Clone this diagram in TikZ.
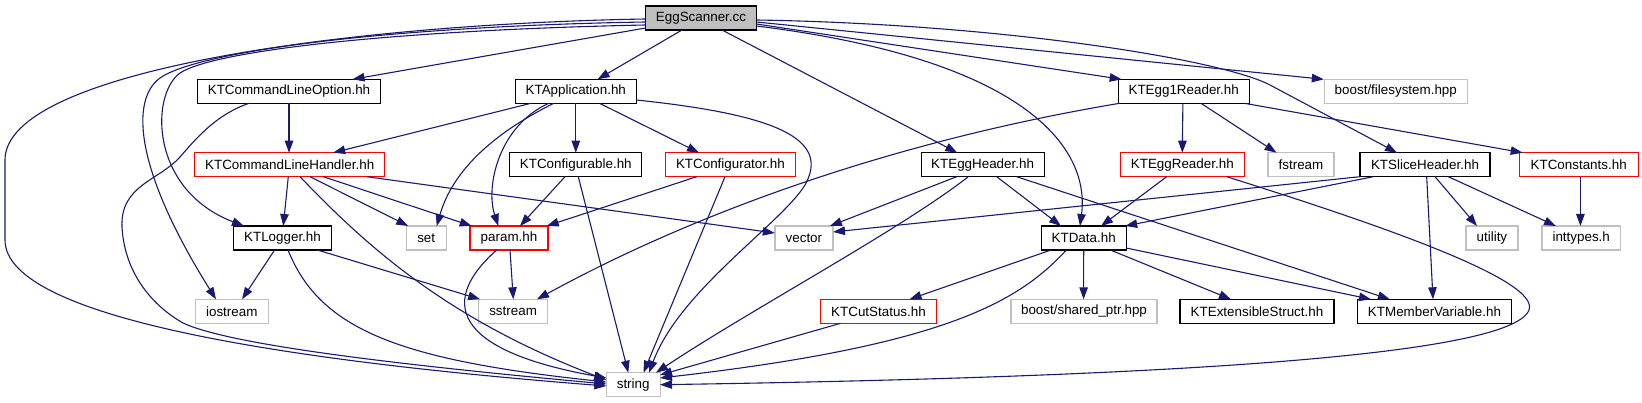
\documentclass[tikz,border=0pt]{standalone}
\usepackage{fontspec}
\setmainfont{Liberation Sans}
\usetikzlibrary{arrows.meta,calc}
\definecolor{mblue}{HTML}{191970}
\definecolor{grey75}{HTML}{BFBFBF}
\definecolor{dred}{HTML}{FF0000}
\begin{document}
\begin{tikzpicture}[x=1pt,y=-1pt,
  box/.style={draw,line width=1.2pt,minimum height=24pt,inner sep=0pt,font=\fontsize{13.4}{15}\selectfont},
  blk/.style={box,draw=black},
  rdb/.style={box,draw=dred},
  gyb/.style={box,draw=grey75},
  dep/.style={draw=mblue,line width=1.1pt,-{Triangle[length=12pt,width=8.5pt]}}]
\useasboundingbox (0,0) rectangle (1642,403);
% row 0
\node[blk,fill=grey75,minimum width=111pt] (es) at (701,18) {EggScanner.cc};
% row 1
\node[blk,minimum width=183pt] (clo) at (289,91.3) {KTCommandLineOption.hh};
\node[blk,minimum width=121pt] (app) at (575.8,91.3) {KTApplication.hh};
\node[blk,minimum width=131pt] (e1r) at (1183.7,91.3) {KTEgg1Reader.hh};
\node[gyb,minimum width=143pt] (bfs) at (1395.8,91.3) {boost/filesystem.hpp};
% row 2
\node[rdb,minimum width=190pt] (clh) at (289.7,164.7) {KTCommandLineHandler.hh};
\node[blk,minimum width=132pt] (cfb) at (575.8,164.7) {KTConfigurable.hh};
\node[rdb,minimum width=130pt] (cfr) at (730.4,164.7) {KTConfigurator.hh};
\node[blk,minimum width=123pt] (ehd) at (982.6,164.7) {KTEggHeader.hh};
\node[rdb,minimum width=124pt] (erd) at (1182.3,164.7) {KTEggReader.hh};
\node[gyb,minimum width=66pt] (fst) at (1301,164.7) {fstream};
\node[blk,minimum width=130pt] (slh) at (1425,164.7) {KTSliceHeader.hh};
\node[rdb,minimum width=119pt] (cst) at (1578.7,164.7) {KTConstants.hh};
% row 3
\node[blk,minimum width=98pt] (log) at (282.5,238) {KTLogger.hh};
\node[gyb,minimum width=40pt] (set) at (426.2,238) {set};
\node[rdb,minimum width=78pt] (prm) at (509,238) {param.hh};
\node[gyb,minimum width=58pt] (vec) at (803.9,238) {vector};
\node[blk,minimum width=85pt] (dat) at (1083.7,238) {KTData.hh};
\node[gyb,minimum width=52pt] (utl) at (1491.9,238) {utility};
\node[gyb,minimum width=78.5pt] (itt) at (1581.2,238) {inttypes.h};
% row 4
\node[gyb,minimum width=73pt] (ios) at (231.8,311.3) {iostream};
\node[gyb,minimum width=69.5pt] (sst) at (513.1,311.3) {sstream};
\node[rdb,minimum width=116pt] (cut) at (878.5,311.3) {KTCutStatus.hh};
\node[gyb,minimum width=146pt] (bsp) at (1084,311.3) {boost/shared\_ptr.hpp};
\node[blk,minimum width=154pt] (ext) at (1257,311.3) {KTExtensibleStruct.hh};
\node[blk,minimum width=154pt] (mem) at (1434.5,311.3) {KTMemberVariable.hh};
% row 5
\node[gyb,minimum width=54pt] (str) at (633.2,384.7) {string};

% EggScanner.cc
\draw[dep] ($(es)+(-55.5,1)$) .. controls (350,24) and (5,70) .. (5,160) -- (5,240) .. controls (5,320) and (300,362) .. ($(str)+(-26.8,1.3)$);
\draw[dep] ($(es)+(-55.5,4)$) .. controls (400,26) and (200,50) .. (160,78) .. controls (130,100) and (135,170) .. ($(ios)+(-15.8,-12)$);
\draw[dep] ($(es)+(-55.5,7)$) .. controls (400,30) and (215,50) .. (180,73) .. controls (150,95) and (150,190) .. ($(log)+(-38.5,-12)$);
\draw[dep] ($(es)+(-55.5,10)$) -- ($(clo)+(63.5,-12)$);
\draw[dep] ($(es)+(-19,12)$) -- ($(app)+(21.8,-12)$);
\draw[dep] ($(es)+(21,12)$) -- ($(ehd)+(-25.3,-12)$);
\draw[dep] ($(es)+(55.5,8)$) .. controls (1030,60) and (1090,150) .. ($(dat)+(-3.7,-12)$);
\draw[dep] ($(es)+(55.5,6)$) -- ($(e1r)+(-62,-12)$);
\draw[dep] ($(es)+(55.5,4)$) -- ($(bfs)+(-72,-12)$);
\draw[dep] ($(es)+(55.5,2)$) .. controls (1000,24) and (1220,59) .. (1270,85) -- ($(slh)+(-28,-12)$);

% KTCommandLineOption.hh
\draw[dep] ($(clo)+(0,12)$) -- ($(clh)+(-0.7,-12)$);
\draw[dep] ($(clo)+(-40,12)$) .. controls (215,115) and (195,140) .. (180,157) .. controls (160,180) and (120,185) .. (122,227) .. controls (125,280) and (160,310) .. (183,323) .. controls (230,345) and (400,365) .. ($(str)+(-26.8,-0.7)$);

% KTApplication.hh
\draw[dep] ($(app)+(-44.8,12)$) -- ($(clh)+(43.5,-12)$);
\draw[dep] ($(app)+(-22,12)$) .. controls (480,140) and (450,180) .. ($(set)+(10.5,-12)$);
\draw[dep] ($(app)+(-27,12)$) .. controls (500,125) and (485,185) .. ($(prm)+(-10.7,-12)$);
\draw[dep] ($(app)+(0,12)$) -- ($(cfb)+(0,-12)$);
\draw[dep] ($(app)+(23.7,12)$) -- ($(cfr)+(-31.4,-12)$);
\draw[dep] ($(app)+(60.5,8.7)$) .. controls (780,115) and (830,140) .. (805,185) .. controls (780,225) and (680,290) .. ($(str)+(15.8,-12)$);

% KTCommandLineHandler.hh
\draw[dep] ($(clh)+(-1.4,12)$) -- ($(log)+(0.8,-12)$);
\draw[dep] ($(clh)+(10.3,12)$) .. controls (370,250) and (450,320) .. ($(str)+(-26.8,-4.7)$);
\draw[dep] ($(clh)+(20.3,12)$) -- ($(set)+(-18,-12)$);
\draw[dep] ($(clh)+(33.6,12)$) -- ($(prm)+(-37.3,-12)$);
\draw[dep] ($(clh)+(77,12)$) -- ($(vec)+(-29.1,-5)$);

% KTLogger.hh
\draw[dep] ($(log)+(-7.9,12)$) -- ($(ios)+(10.2,-12)$);
\draw[dep] ($(log)+(5.5,12)$) .. controls (320,330) and (400,360) .. ($(str)+(-26.8,-2.7)$);
\draw[dep] ($(log)+(34.9,12)$) -- ($(sst)+(-33,-12)$);

% param.hh
\draw[dep] ($(prm)+(1,12)$) -- ($(sst)+(0.2,-12)$);
\draw[dep] ($(prm)+(-12.3,12)$) .. controls (440,300) and (450,350) .. ($(str)+(-26.8,-6.7)$);

% KTConfigurable.hh / KTConfigurator.hh
\draw[dep] ($(cfb)+(-10.8,12)$) -- ($(prm)+(11,-12)$);
\draw[dep] ($(cfb)+(2.5,12)$) -- ($(str)+(-4.9,-12)$);
\draw[dep] ($(cfr)+(-33.7,12)$) -- ($(prm)+(37.7,-12)$);
\draw[dep] ($(cfr)+(-5.4,12)$) -- ($(str)+(10.3,-12)$);

% KTEgg1Reader.hh
\draw[dep] ($(e1r)+(-64,12)$) .. controls (900,140) and (700,210) .. ($(sst)+(23.9,-12)$);
\draw[dep] ($(e1r)+(-0.8,12)$) -- ($(erd)+(0,-12)$);
\draw[dep] ($(e1r)+(17.3,12)$) -- ($(fst)+(-24.5,-12)$);
\draw[dep] ($(e1r)+(60.7,12)$) -- ($(cst)+(-56,-12)$);

% KTEggHeader.hh
\draw[dep] ($(ehd)+(-25.9,12)$) -- ($(vec)+(26,-12)$);
\draw[dep] ($(ehd)+(-14.3,12)$) .. controls (900,230) and (750,310) .. ($(str)+(22.8,-12)$);
\draw[dep] ($(ehd)+(14.1,12)$) -- ($(dat)+(-22.7,-12)$);
\draw[dep] ($(ehd)+(34,12)$) -- ($(mem)+(-44.7,-12)$);

% KTEggReader.hh
\draw[dep] ($(erd)+(-15.6,12)$) -- ($(dat)+(17.3,-12)$);
\draw[dep] ($(erd)+(44.4,12)$) .. controls (1380,225) and (1540,280) .. (1529,310) .. controls (1510,360) and (1100,378) .. ($(str)+(26.8,0)$);

% KTSliceHeader.hh
\draw[dep] ($(slh)+(-65,12)$) -- ($(vec)+(29.1,-6)$);
\draw[dep] ($(slh)+(-51.7,12)$) -- ($(dat)+(41.5,-12)$);
\draw[dep] ($(slh)+(1.7,12)$) -- ($(mem)+(-1.5,-12)$);
\draw[dep] ($(slh)+(10,12)$) -- ($(utl)+(-14.9,-12)$);
\draw[dep] ($(slh)+(23.3,12)$) -- ($(itt)+(-25.2,-12)$);

% KTConstants.hh
\draw[dep] ($(cst)+(1.7,12)$) -- ($(itt)+(-0.8,-12)$);

% KTData.hh
\draw[dep] ($(dat)+(-32.7,12)$) -- ($(cut)+(31,-12)$);
\draw[dep] ($(dat)+(-17.3,12)$) .. controls (1020,300) and (950,345) .. ($(str)+(26.8,-6.7)$);
\draw[dep] ($(dat)+(0,12)$) -- ($(bsp)+(-0.4,-12)$);
\draw[dep] ($(dat)+(26.7,12)$) -- ($(ext)+(-26,-12)$);
\draw[dep] ($(dat)+(42.5,10)$) -- ($(mem)+(-63.5,-12)$);

% KTCutStatus.hh
\draw[dep] ($(cut)+(-37.9,12)$) -- ($(str)+(26.8,-9.7)$);
\end{tikzpicture}
\end{document}
